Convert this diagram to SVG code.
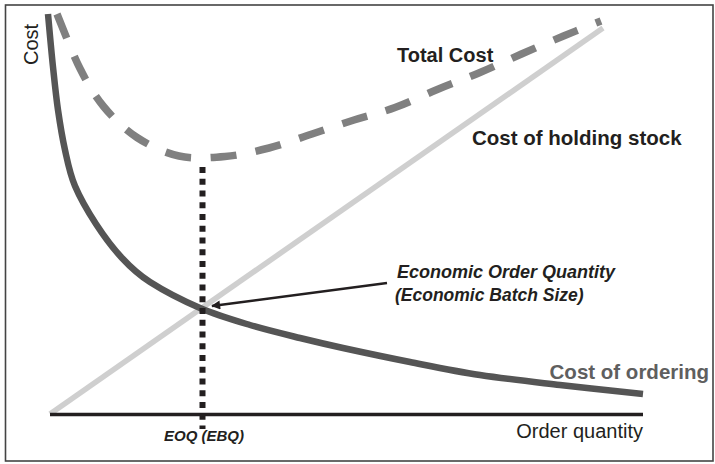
<svg xmlns="http://www.w3.org/2000/svg" width="715" height="464" viewBox="0 0 715 464">
<defs>
<style>
.lbl{font-family:"Liberation Sans",Arial,sans-serif;fill:#231f20}
.b{font-weight:bold}
.bi{font-weight:bold;font-style:italic}
</style>
<marker id="ah" viewBox="0 0 10 10" refX="9" refY="5" markerWidth="4" markerHeight="3.6" orient="auto" markerUnits="strokeWidth">
<path d="M0,0 L10,5 L0,10 z" fill="#231f20"/>
</marker>
</defs>
<rect x="5.5" y="5" width="707.5" height="456" fill="#fff" stroke="#444" stroke-width="1.6"/>
<g id="connectors" fill="none">
<line id="holding" x1="50" y1="414" x2="603" y2="28" stroke="#cfcfcf" stroke-width="5.5"/>
<path id="ordering" stroke="#555" stroke-width="6.5" d="M48,14 C48.8,22.8 51.3,51 53,67 C54.7,83 56,96.2 58,110 C60,123.8 62.2,137.3 65,150 C67.8,162.7 69.8,173.7 75,186 C80.2,198.3 88.2,212 96,224 C103.8,236 113,248.3 122,258 C131,267.7 137,273.7 150,282 C163,290.3 183.3,300.8 200,308 C216.7,315.2 233.3,320 250,325 C266.7,330 284.5,334.2 300,338 C315.5,341.8 324.7,344 343,348 C361.3,352 387.2,357.5 410,362 C432.8,366.5 455,371.2 480,375 C505,378.8 532.8,381.8 560,385 C587.2,388.2 629.2,392.5 643,394"/>
<path id="total" stroke="#808080" stroke-width="7.5" stroke-dasharray="26 19.5" d="M57,14 C60.8,23.1 72.2,53 80,68.5 C87.8,84 94.5,95.5 104,107 C113.5,118.5 124.5,129.3 137,137.5 C149.5,145.7 164.3,152.8 179,156 C193.7,159.2 210,157.8 225,156.5 C240,155.2 254.5,151.75 269,148 C283.5,144.25 297.8,138.7 312,134 C326.2,129.3 340.2,124.4 354,120 C367.8,115.6 380.9,112.7 395,107.5 C409.1,102.3 424.3,94.8 438.5,89 C452.7,83.2 466.2,78.3 480,72.5 C493.8,66.7 507.6,60.1 521.5,54 C535.4,47.9 550.25,41.5 563.5,36 C576.75,30.5 594.75,23.5 601,21"/>
<line id="axis" x1="50" y1="414.5" x2="643" y2="414.5" stroke="#231f20" stroke-width="3.5"/>
<line id="eoq-line" x1="202.5" y1="167" x2="202.5" y2="429" stroke="#231f20" stroke-width="6" stroke-dasharray="6 5.75"/>
<line id="eoq-arrow" x1="387" y1="283" x2="212" y2="306" stroke="#231f20" stroke-width="2.5" marker-end="url(#ah)"/>
</g>
<g id="label-cost"><text class="lbl" font-size="20" transform="translate(38,65) rotate(-90)">Cost</text></g>
<g id="label-total"><text class="lbl b" x="397" y="61.5" font-size="20">Total Cost</text></g>
<g id="label-holding"><text class="lbl b" x="472" y="145" font-size="20.5">Cost of holding stock</text></g>
<g id="label-eoq"><text class="lbl bi" x="397" y="278" font-size="18">Economic Order Quantity</text><text class="lbl bi" x="395" y="301" font-size="17.5">(Economic Batch Size)</text></g>
<g id="label-ordering"><text class="lbl b" x="709" y="378.5" font-size="20.5" text-anchor="end" style="fill:#5f5f5f">Cost of ordering</text></g>
<g id="label-quantity"><text class="lbl" x="643" y="438" font-size="20" text-anchor="end">Order quantity</text></g>
<g id="label-ebq"><text class="lbl bi" x="204" y="441" font-size="15" text-anchor="middle">EOQ (EBQ)</text></g>
</svg>
